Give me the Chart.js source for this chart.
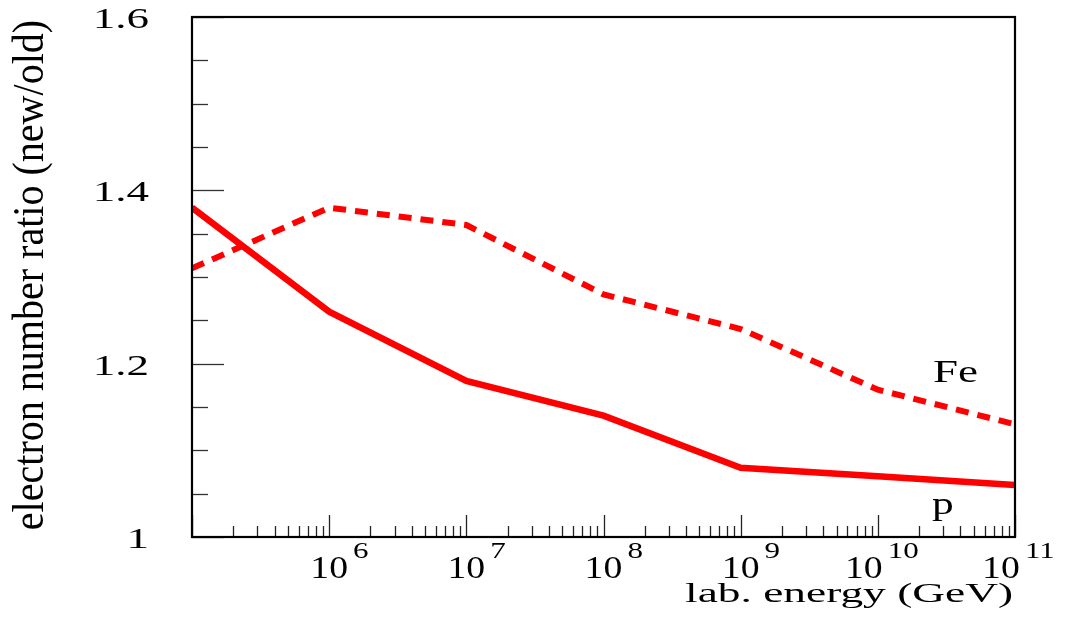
<!DOCTYPE html>
<html>
<head>
<meta charset="utf-8">
<script src="https://cdn.jsdelivr.net/npm/chart.js@4/dist/chart.umd.min.js"></script>
<style>
  html, body { margin: 0; padding: 0; background: #ffffff; }
  #wrap { width: 1076px; height: 617px; }
</style>
</head>
<body>
<div id="wrap"><canvas id="c" width="1076" height="617"></canvas></div>
<script>
// ---- data ----
const energies = [1e5, 1e6, 1e7, 1e8, 1e9, 1e10, 1e11];
const pRatio   = [1.38, 1.26, 1.18, 1.14, 1.08, 1.07, 1.06];
const feRatio  = [1.31, 1.38, 1.36, 1.28, 1.24, 1.17, 1.13];
const seriesNames = ['p', 'Fe'];

const yMin = 1.0, yMax = 1.6, yStep = 0.05;
const yMajorValues = [1.0, 1.2, 1.4, 1.6];
const yMajorLabels = ['1', '1.2', '1.4', '1.6'];

const xMin = 1e5, xMax = 1e11;
const xDecadeValues = [1e6, 1e7, 1e8, 1e9, 1e10, 1e11];
const xDecadeExponents = ['6', '7', '8', '9', '10', '11'];
const xMinorMultipliers = [1, 2, 3, 4, 5, 6, 7, 8, 9];

const xTitle = 'lab. energy (GeV)';
const yTitle = 'electron number ratio (new/old)';

const SERIF = '"Liberation Serif", "Times New Roman", serif';

function toPoints(xs, ys) { return xs.map((x, i) => ({ x: x, y: ys[i] })); }

function stretchedText(ctx, text, x, y, size, sx, align) {
  ctx.save();
  ctx.translate(x, y);
  ctx.scale(sx, 1);
  ctx.font = size + 'px ' + SERIF;
  ctx.textAlign = align;
  ctx.textBaseline = 'alphabetic';
  ctx.fillStyle = '#000';
  ctx.fillText(text, 0, 0);
  ctx.restore();
}

const framePlugin = {
  id: 'frame',
  afterDatasetsDraw(chart) {
    const ctx = chart.ctx;
    const a = chart.chartArea;
    const xs = chart.scales.x, ys = chart.scales.y;
    ctx.save();
    // inward tick marks on y axis
    ctx.strokeStyle = '#333';
    ctx.lineWidth = 1.3;
    ys.ticks.forEach(t => {
      const py = Math.round(ys.getPixelForValue(t.value)) + 0.5;
      const major = Math.round(t.value * 100) % 20 === 0;
      const len = major ? 32 : 16;
      ctx.beginPath();
      ctx.moveTo(a.left, py);
      ctx.lineTo(a.left + len, py);
      ctx.stroke();
    });
    // inward tick marks on x axis
    ctx.strokeStyle = '#222';
    xs.ticks.forEach(t => {
      const px = Math.round(xs.getPixelForValue(t.value)) + 0.5;
      const lg = Math.log10(t.value);
      const major = Math.abs(lg - Math.round(lg)) < 1e-9;
      const len = major ? 22 : 11;
      ctx.beginPath();
      ctx.moveTo(px, a.bottom);
      ctx.lineTo(px, a.bottom - len);
      ctx.stroke();
    });
    // frame
    ctx.strokeStyle = '#000';
    ctx.lineWidth = 2.2;
    ctx.strokeRect(a.left, a.top, a.right - a.left, a.bottom - a.top);
    ctx.restore();
  },
  afterDraw(chart) {
    const ctx = chart.ctx;
    const xs = chart.scales.x, ys = chart.scales.y;
    // y tick labels
    yMajorValues.forEach((v, i) => {
      const py = ys.getPixelForValue(v);
      stretchedText(ctx, yMajorLabels[i], 149, py + 11, 30, 1.5, 'right');
    });
    // x tick labels: 10^n
    ctx.save();
    ctx.font = '32px ' + SERIF;
    const w10 = ctx.measureText('10').width * 1.18;
    ctx.restore();
    xDecadeValues.forEach((v, i) => {
      const px = xs.getPixelForValue(v);
      const exp = xDecadeExponents[i];
      const shift = (exp.length - 1) * -14;
      const left = px - w10 / 2 + shift;
      stretchedText(ctx, '10', left, 578, 32, 1.18, 'left');
      stretchedText(ctx, exp, left + w10 + 5, 558, 23, 1.35, 'left');
    });
    // x title
    stretchedText(ctx, xTitle, 1013, 602, 28, 1.62, 'right');
    // y title
    ctx.save();
    ctx.translate(43, 275);
    ctx.rotate(-Math.PI / 2);
    ctx.scale(0.91, 1);
    ctx.font = '44px ' + SERIF;
    ctx.textAlign = 'center';
    ctx.textBaseline = 'alphabetic';
    ctx.fillStyle = '#000';
    ctx.fillText(yTitle, 0, 0);
    ctx.restore();
    // series labels
    stretchedText(ctx, seriesNames[1], 933, 382, 31, 1.45, 'left');
    stretchedText(ctx, seriesNames[0], 932, 514, 31, 1.4, 'left');
  }
};

new Chart(document.getElementById('c'), {
  type: 'line',
  data: {
    datasets: [
      {
        label: seriesNames[0],
        data: toPoints(energies, pRatio),
        borderColor: '#ff0000',
        borderWidth: 6.5,
        pointRadius: 0,
        tension: 0,
        fill: false
      },
      {
        label: seriesNames[1],
        data: toPoints(energies, feRatio),
        borderColor: '#ff0000',
        borderWidth: 6,
        borderDash: [13, 9],
        borderCapStyle: 'butt',
        pointRadius: 0,
        tension: 0,
        fill: false
      }
    ]
  },
  options: {
    responsive: false,
    devicePixelRatio: 1,
    animation: false,
    events: [],
    layout: { padding: { left: 192, top: 17, right: 61, bottom: 80 } },
    plugins: { legend: { display: false }, tooltip: { enabled: false } },
    scales: {
      x: {
        type: 'logarithmic',
        display: false,
        min: xMin,
        max: xMax,
        ticks: { autoSkip: false, sampleSize: 1000 },
        afterBuildTicks(scale) {
          const ticks = [];
          for (let d = xMin; d < xMax; d *= 10) {
            xMinorMultipliers.forEach(m => ticks.push({ value: d * m }));
          }
          ticks.push({ value: xMax });
          scale.ticks = ticks;
        }
      },
      y: {
        type: 'linear',
        display: false,
        min: yMin,
        max: yMax,
        ticks: { stepSize: yStep, autoSkip: false }
      }
    }
  },
  plugins: [framePlugin]
});
</script>
</body>
</html>
